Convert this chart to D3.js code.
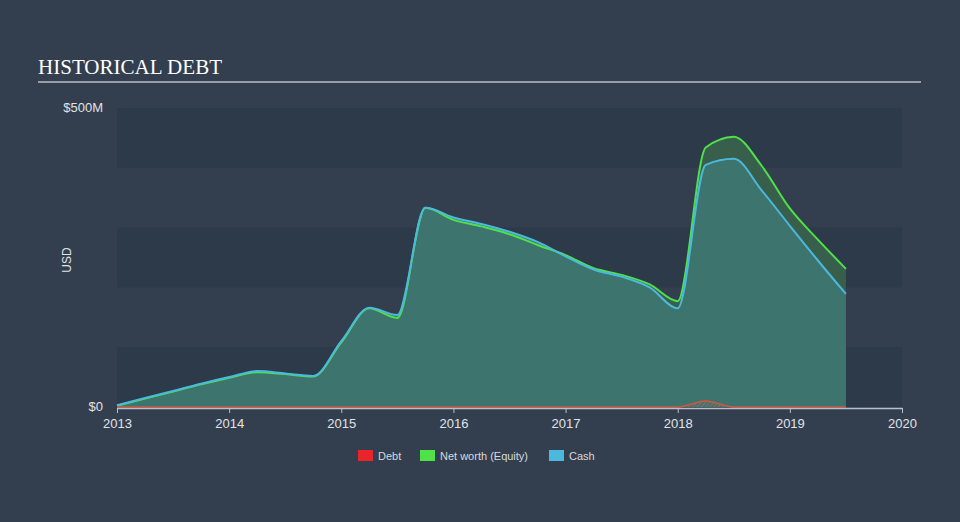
<!DOCTYPE html>
<html>
<head>
<meta charset="utf-8">
<script src="https://cdn.jsdelivr.net/npm/d3@7"></script>
<style>
  html, body { margin: 0; padding: 0; background: #333f4e; }
  svg { display: block; }
</style>
</head>
<body>
<svg id="chart" width="960" height="522"></svg>
<script>
// ---- data ----
const dates = [2013.0, 2013.25, 2013.5, 2013.75, 2014.0, 2014.25, 2014.5, 2014.75,
  2015.0, 2015.25, 2015.5, 2015.75, 2016.0, 2016.25, 2016.5, 2016.75,
  2017.0, 2017.25, 2017.5, 2017.75, 2018.0, 2018.25, 2018.5, 2018.75,
  2019.0, 2019.25, 2019.5];
const debt = [0, 0, 0, 0, 0, 0, 0, 0, 0, 0, 0, 0, 0, 0, 0, 0,
  0, 0, 0, 0, 0, 10, 0, 0, 0, 0, 0];
const equity = [2, 14, 26, 38, 49, 58, 55, 51, 108, 165, 149, 333, 313, 302, 289, 271,
  254, 232, 221, 205, 177, 434, 452, 403, 332, 280, 231];
const cash = [3, 15, 27, 39, 50, 60, 56, 52, 110, 166, 154, 333, 317, 306, 293, 276,
  252, 230, 218, 200, 165, 405, 415, 362, 303, 245, 189];
const xTicks = [2013, 2014, 2015, 2016, 2017, 2018, 2019, 2020];
const yTicks = [0, 500];
const yTickLabels = ["$0", "$500M"];
const legendNames = ["Debt", "Net worth (Equity)", "Cash"];
const legendColors = ["#e8262a", "#4fe04a", "#4bb8de"];

(function () {
// ---- layout ----
const svg = d3.select("#chart");
const pL = 117, pR = 902, pT = 108, pB = 407;
const x = d3.scaleLinear().domain([2013, 2020]).range([pL, pR]);
const y = d3.scaleLinear().domain([0, 500]).range([pB, pT]);

// title
svg.append("text").attr("x", 38).attr("y", 74)
  .attr("font-family", "'Liberation Serif', 'Times New Roman', serif")
  .attr("font-size", 21).attr("fill", "#ffffff")
  .attr("textLength", 184).attr("lengthAdjust", "spacingAndGlyphs")
  .text("HISTORICAL DEBT");
svg.append("line").attr("x1", 38).attr("x2", 921).attr("y1", 82).attr("y2", 82)
  .attr("stroke", "#b9bec5").attr("stroke-width", 1.5);

// bands
const bandStarts = [0, 200, 400];
svg.append("g").selectAll("rect").data(bandStarts).join("rect")
  .attr("x", pL).attr("width", pR - pL)
  .attr("y", d => y(d + 100)).attr("height", d => y(d) - y(d + 100))
  .attr("fill", "#2d3a4a");

// defs: hatch pattern
const defs = svg.append("defs");
const pat = defs.append("pattern").attr("id", "hatch").attr("patternUnits", "userSpaceOnUse")
  .attr("width", 3).attr("height", 3).attr("patternTransform", "rotate(45)");
pat.append("rect").attr("width", 3).attr("height", 3).attr("fill", "#3d746d");
pat.append("line").attr("x1", 0).attr("y1", 0).attr("x2", 0).attr("y2", 3)
  .attr("stroke", "#c26a55").attr("stroke-width", 1.2);

const curve = d3.curveMonotoneX;
const idx = d3.range(dates.length);

const areaEq = d3.area().curve(curve).x(i => x(dates[i])).y0(y(0)).y1(i => y(equity[i]));
const areaCash = d3.area().curve(curve).x(i => x(dates[i])).y0(y(0)).y1(i => y(cash[i]));
const areaDebt = d3.area().curve(curve).x(i => x(dates[i])).y0(y(0)).y1(i => y(debt[i]));
const lineEq = d3.line().curve(curve).x(i => x(dates[i])).y(i => y(equity[i]));
const lineCash = d3.line().curve(curve).x(i => x(dates[i])).y(i => y(cash[i]));
const lineDebt = d3.line().curve(curve).x(i => x(dates[i])).y(i => y(debt[i]));

svg.append("path").attr("d", areaEq(idx)).attr("fill", "#385f4c");
svg.append("path").attr("d", areaCash(idx)).attr("fill", "#3d746d");
svg.append("path").attr("d", areaDebt(idx)).attr("fill", "url(#hatch)");

svg.append("path").attr("d", lineEq(idx)).attr("fill", "none")
  .attr("stroke", "#4fe04a").attr("stroke-width", 2);
svg.append("path").attr("d", lineCash(idx)).attr("fill", "none")
  .attr("stroke", "#4bb8de").attr("stroke-width", 2);
svg.append("path").attr("d", lineDebt(idx)).attr("fill", "none")
  .attr("stroke", "#d2553f").attr("stroke-width", 1.5);

// x axis
const xAxis = d3.axisBottom(x).tickValues(xTicks).tickFormat(d3.format("d"))
  .tickSize(5).tickSizeOuter(0);
const gx = svg.append("g").attr("transform", `translate(0,${pB + 1})`).call(xAxis);
gx.select(".domain").attr("stroke", "#b9c0cc").attr("stroke-width", 1.5);
gx.selectAll(".tick line").attr("stroke", "#b9c0cc");
gx.selectAll(".tick text").attr("fill", "#e0e3e8").attr("font-size", 13)
  .attr("font-family", "'Liberation Sans', Arial, sans-serif").attr("dy", "0.95em");

// y labels
svg.append("g").selectAll("text").data(yTicks).join("text")
  .attr("x", 103).attr("y", d => y(d) + 4).attr("text-anchor", "end")
  .attr("font-family", "'Liberation Sans', Arial, sans-serif").attr("font-size", 13)
  .attr("fill", "#e0e3e8").text((d, i) => yTickLabels[i]);

svg.append("text").attr("transform", "translate(71,260) rotate(-90)")
  .attr("text-anchor", "middle").attr("font-family", "'Liberation Sans', Arial, sans-serif")
  .attr("font-size", 12).attr("fill", "#e0e3e8").text("USD");

// legend
const legX = [358, 420, 549];
const leg = svg.append("g").selectAll("g").data(legendNames).join("g")
  .attr("transform", (d, i) => `translate(${legX[i]},450)`);
leg.append("rect").attr("width", 15).attr("height", 11).attr("fill", (d, i) => legendColors[i]);
leg.append("text").attr("x", 20).attr("y", 10)
  .attr("font-family", "'Liberation Sans', Arial, sans-serif").attr("font-size", 11)
  .attr("fill", "#d5d9df").text(d => d);
})();
</script>
</body>
</html>
